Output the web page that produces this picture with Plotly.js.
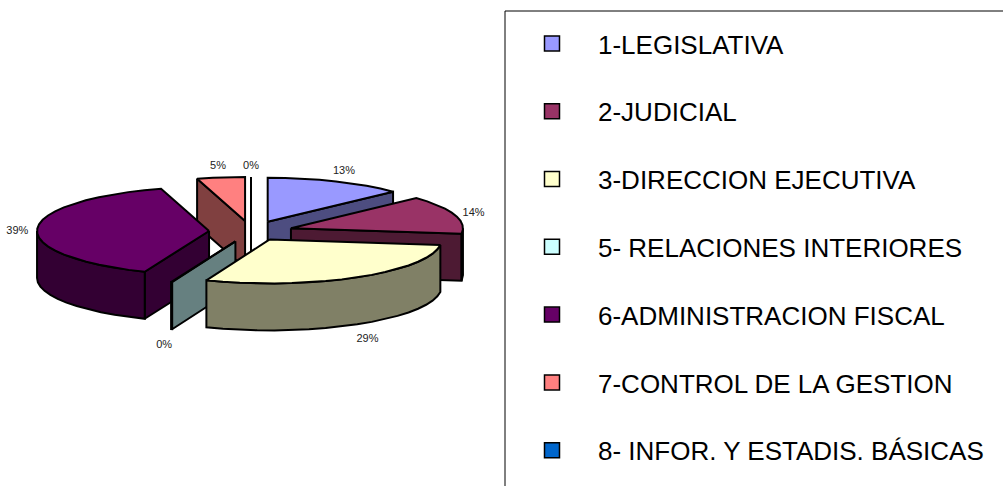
<!DOCTYPE html>
<html><head><meta charset="utf-8">
<script src="https://cdn.plot.ly/plotly-3.0.1.min.js"></script>
<style>html,body{margin:0;padding:0;background:#fff;overflow:hidden}#c{width:1003px;height:486px}</style>
</head><body><div id="c"></div>
<script>
const categories = ["1-LEGISLATIVA","2-JUDICIAL","3-DIRECCION EJECUTIVA","5- RELACIONES INTERIORES","6-ADMINISTRACION FISCAL","7-CONTROL DE LA GESTION","8- INFOR. Y ESTADIS. BÁSICAS"];
const values = [13, 14, 29, 0.1, 39.4, 4.5, 0];
const topColors = ["#9999FF","#993366","#FFFFCC","#CCFFFF","#660066","#FF8080","#0066CC"];
const sideColors = ["#4D4D80","#4D1A33","#808066","#668080","#330033","#804040","#003366"];
const pulls = [0.24,0.24,0.21,0.24,0.24,0.24,0.24];
const drawOrder = [5,6,0,1,4,3,2];

const cx=251, cy=231.5, rx=172, ry=44, depth=47, labelOut=14;
const rad=d=>d*Math.PI/180;
const total=values.reduce((a,b)=>a+b,0);
let acc=0;
const slices=values.map((v,i)=>{
  const a=acc/total*360; acc+=v; const b=acc/total*360; const m=(a+b)/2;
  return {i,a,b,m,ax:cx+pulls[i]*175*Math.sin(rad(m)),ay:cy-pulls[i]*ry*Math.cos(rad(m))};
});
const rimPt=(s,t)=>[s.ax+rx*Math.sin(rad(t)), s.ay-ry*Math.cos(rad(t))];
const arc=(s,a,b)=>{const p=[];const n=Math.max(1,Math.ceil((b-a)/6));for(let k=0;k<=n;k++)p.push(rimPt(s,a+(b-a)*k/n));return p;};
const poly=(pts,color)=>({type:"scatter",mode:"lines",x:[...pts.map(p=>p[0]),pts[0][0]],y:[...pts.map(p=>p[1]),pts[0][1]],
  fill:"toself",fillcolor:color,line:{color:"#000",width:2},showlegend:false,hoverinfo:"skip"});

const traces=[];
categories.forEach((c,i)=>traces.push({type:"scatter",mode:"markers",x:[null],y:[null],name:c,legendgroup:c,
  marker:{symbol:"square",size:15,color:topColors[i],line:{color:"#000",width:1.5}},hoverinfo:"skip"}));

drawOrder.forEach(i=>{
  const s=slices[i], side=sideColors[i];
  const edge=t=>{const r=rimPt(s,t);return [[s.ax,s.ay],r,[r[0],r[1]+depth],[s.ax,s.ay+depth]];};
  if(Math.sin(rad(s.a))<0 || s.a>=180) traces.push(poly(edge(s.a),side));
  if(Math.sin(rad(s.b))>0) traces.push(poly(edge(s.b),side));
  const r0=Math.max(s.a,90), r1=Math.min(s.b,270);
  if(r1>r0){const up=arc(s,r0,r1);const low=up.map(p=>[p[0],p[1]+depth]).reverse();traces.push(poly([...up,...low],side));}
  traces.push(poly([[s.ax,s.ay],...arc(s,s.a,s.b)],topColors[i]));
});

traces.push({type:"scatter",mode:"text",showlegend:false,hoverinfo:"skip",
  x:slices.map(s=>s.ax+(rx+20)*Math.sin(rad(s.m))),
  y:slices.map(s=>s.ay-(ry+labelOut)*Math.cos(rad(s.m))+(Math.cos(rad(s.m))<-0.1?depth:0)+3),
  text:values.map(v=>v.toFixed(0)+"%"),textposition:"middle center",
  textfont:{family:"Liberation Sans, Arial, sans-serif",size:11,color:"#222"}});

const layout={width:1003,height:486,margin:{l:0,r:0,t:0,b:0},paper_bgcolor:"#fff",plot_bgcolor:"#fff",
  xaxis:{range:[0,1003],visible:false,fixedrange:true},
  yaxis:{range:[486,0],visible:false,fixedrange:true},
  showlegend:true,
  legend:{x:506/1003,y:1-20/486,xanchor:"left",yanchor:"top",traceorder:"grouped",tracegroupgap:31,itemwidth:82,
    bgcolor:"rgba(0,0,0,0)",borderwidth:0,font:{family:"Liberation Sans, Arial, sans-serif",size:26,color:"#000"},itemclick:false,itemdoubleclick:false},
  shapes:[{type:"rect",xref:"x",yref:"y",x0:505,x1:1020,y0:11,y1:510,line:{color:"#000",width:1},fillcolor:"rgba(0,0,0,0)",layer:"below"}]
};
Plotly.newPlot("c",traces,layout,{displayModeBar:false,staticPlot:false});
</script></body></html>
